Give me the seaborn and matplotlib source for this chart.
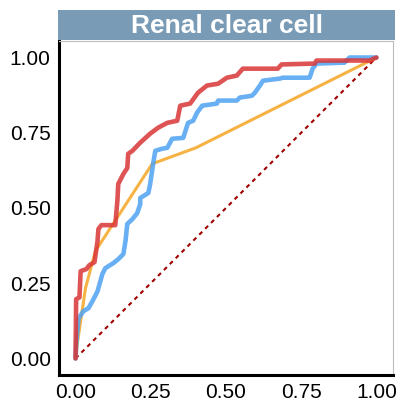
import pandas as pd
import seaborn as sns
import matplotlib.pyplot as plt

# ROC curves (false positive rate, true positive rate)
red_fpr = [0, 0.002, 0.013, 0.017, 0.036, 0.046, 0.063, 0.073, 0.076, 0.086, 0.132, 0.139,
           0.142, 0.159, 0.172, 0.175, 0.189, 0.215, 0.248, 0.275, 0.305, 0.338, 0.348, 0.381,
           0.407, 0.437, 0.474, 0.503, 0.536, 0.556, 0.672, 0.685, 0.795, 0.801, 0.977, 1.0]
red_tpr = [0, 0.197, 0.203, 0.29, 0.297, 0.31, 0.32, 0.39, 0.43, 0.443, 0.443, 0.523,
           0.58, 0.613, 0.633, 0.68, 0.69, 0.717, 0.747, 0.767, 0.783, 0.79, 0.84, 0.847,
           0.883, 0.907, 0.913, 0.933, 0.94, 0.963, 0.963, 0.977, 0.98, 0.99, 0.99, 1.0]

blue_fpr = [0, 0.003, 0.01, 0.026, 0.043, 0.056, 0.073, 0.089, 0.099, 0.126, 0.142, 0.159,
            0.166, 0.172, 0.189, 0.205, 0.215, 0.215, 0.242, 0.248, 0.258, 0.265, 0.288, 0.305,
            0.321, 0.358, 0.374, 0.391, 0.404, 0.421, 0.47, 0.474, 0.536, 0.546, 0.586, 0.596,
            0.613, 0.623, 0.679, 0.689, 0.778, 0.788, 0.801, 0.894, 0.911, 1.0]
blue_tpr = [0, 0.057, 0.133, 0.157, 0.167, 0.19, 0.223, 0.28, 0.30, 0.317, 0.33, 0.347,
            0.39, 0.447, 0.463, 0.483, 0.513, 0.533, 0.55, 0.58, 0.647, 0.69, 0.697, 0.70,
            0.73, 0.733, 0.783, 0.79, 0.817, 0.84, 0.847, 0.857, 0.857, 0.867, 0.873, 0.883,
            0.907, 0.923, 0.93, 0.933, 0.933, 0.963, 0.98, 0.983, 1.0, 1.0]

orange_fpr = [0, 0.007, 0.033, 0.066, 0.255, 0.40, 1.0]
orange_tpr = [0, 0.057, 0.233, 0.357, 0.647, 0.70, 1.0]

diag = [0, 1]

frames = []
for name, f, t in [("blue", blue_fpr, blue_tpr), ("red", red_fpr, red_tpr),
                   ("orange", orange_fpr, orange_tpr)]:
    frames.append(pd.DataFrame({"fpr": f, "tpr": t, "model": name}))
df = pd.concat(frames, ignore_index=True)

sns.set_style("white")
plt.rcParams["font.family"] = ["Liberation Sans", "DejaVu Sans"]

fig = plt.figure(figsize=(4.03, 4.05), dpi=100)
ax = fig.add_axes([0.1464, 0.0741, 0.8286, 0.8247])

ax.plot(diag, diag, color="#a00000", lw=1.5, ls=(0, (2.0, 2.0)), zorder=1)

sns.lineplot(data=df[df.model == "orange"], x="fpr", y="tpr", sort=False, estimator=None,
             color="#f5a623", lw=2.2, alpha=0.85, ax=ax)
sns.lineplot(data=df[df.model == "blue"], x="fpr", y="tpr", sort=False, estimator=None,
             color="#4ea3f1", lw=3.3, alpha=0.85, ax=ax)
sns.lineplot(data=df[df.model == "red"], x="fpr", y="tpr", sort=False, estimator=None,
             color="#d93636", lw=3.3, alpha=0.85, ax=ax)

ax.set_xlim(-0.055, 1.055)
ax.set_ylim(-0.055, 1.055)
ticks = [0, 0.25, 0.5, 0.75, 1.0]
ax.set_xticks(ticks)
ax.set_yticks(ticks)
ax.set_xticklabels(["0.00", "0.25", "0.50", "0.75", "1.00"])
ax.set_yticklabels(["0.00", "0.25", "0.50", "0.75", "1.00"])
ax.tick_params(length=0, labelsize=15, pad=6, colors="black")
ax.set_xlabel("")
ax.set_ylabel("")

for s in ["left", "bottom"]:
    ax.spines[s].set_color("black")
    ax.spines[s].set_linewidth(2.2)
for s in ["top", "right"]:
    ax.spines[s].set_color("#bcbcbc")
    ax.spines[s].set_linewidth(0.8)

# facet strip
strip = fig.add_axes([0.1440, 0.9015, 0.8370, 0.0740])
strip.set_facecolor("#7a9bb6")
strip.set_xticks([])
strip.set_yticks([])
for s in strip.spines.values():
    s.set_visible(False)
strip.text(0.5, 0.48, "Renal clear cell", color="white", fontsize=19, fontweight="bold",
           ha="center", va="center", transform=strip.transAxes)

fig.savefig("out.png", dpi=100)
